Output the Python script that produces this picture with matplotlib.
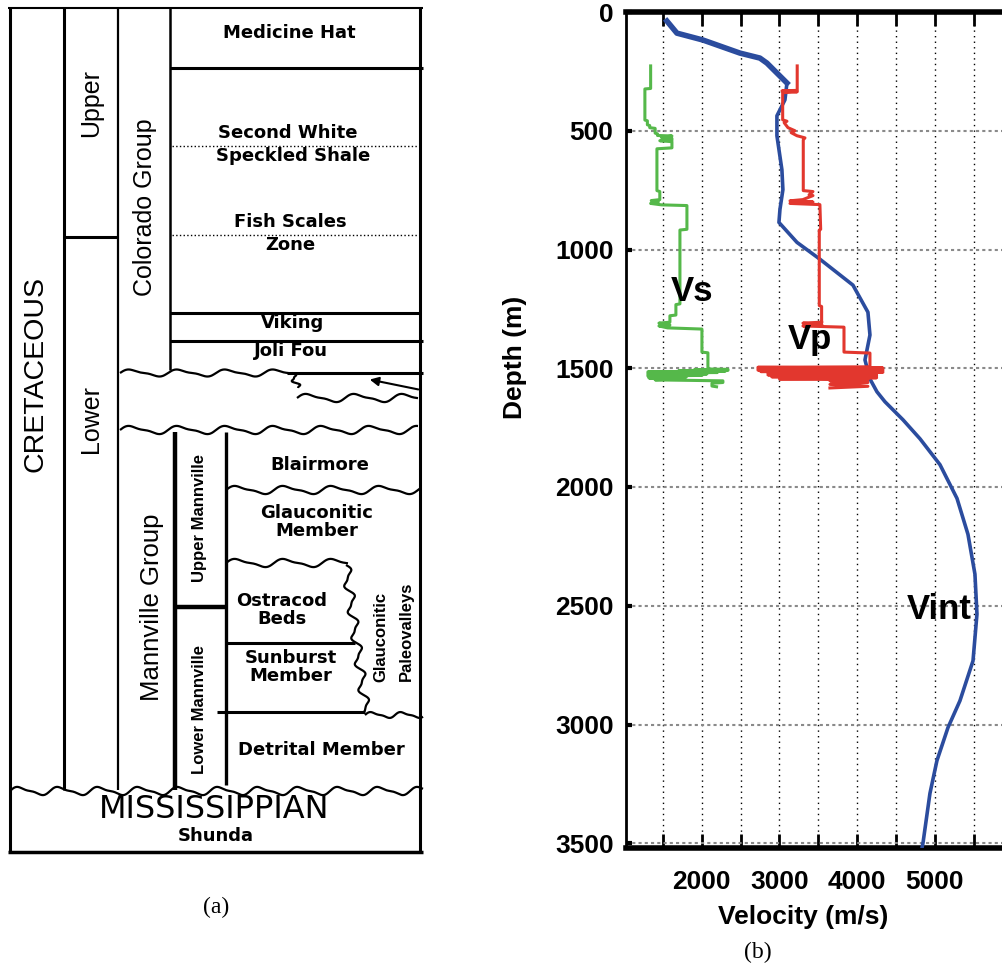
import numpy as np
import matplotlib.pyplot as plt
from matplotlib.ticker import FixedLocator

plt.rcParams['font.family'] = ['Liberation Sans', 'DejaVu Sans']

# ---------------- data ----------------
vint_depth = [38, 89, 118, 173, 194, 215, 257, 299, 370, 437, 521, 664, 748, 831, 886,
              970, 1041, 1150, 1264, 1360, 1465, 1545, 1599, 1641, 1717, 1797, 1906,
              2048, 2199, 2367, 2535, 2732, 2900, 3013, 3152, 3290, 3500, 3521]
vint_vel = [1551, 1680, 2015, 2491, 2748, 2838, 2967, 3096, 3070, 2967, 2967, 3031, 3044,
            3006, 2993, 3225, 3521, 3945, 4138, 4164, 4100, 4164, 4254, 4357, 4589, 4808,
            5065, 5284, 5425, 5515, 5541, 5490, 5322, 5168, 5026, 4936, 4846, 4833]

vs_depth = [227, 322, 324, 455, 458, 475, 478, 487, 490, 510, 513, 520, 522, 528, 532, 540,
            542, 546, 572, 576, 752, 756, 790, 794, 800, 806, 812, 815, 915, 918, 1229,
            1232, 1276, 1279, 1306, 1310, 1318, 1322, 1330, 1335, 1432, 1435, 1503, 1505,
            1507, 1509, 1511, 1513, 1515, 1518, 1521, 1524, 1527, 1530, 1533, 1537, 1541,
            1545, 1549, 1553, 1560, 1563, 1575, 1578]
vs_vel = [1342, 1342, 1268, 1268, 1300, 1300, 1330, 1330, 1400, 1400, 1430, 1430, 1616,
          1480, 1616, 1616, 1460, 1616, 1616, 1423, 1423, 1460, 1460, 1350, 1440, 1342,
          1480, 1809, 1809, 1719, 1719, 1667, 1667, 1590, 1590, 1449, 1590, 1449, 1560,
          2002, 2002, 2079, 2079, 2337, 1900, 2337, 1700, 2300, 1307, 2200, 1307, 2066,
          1307, 2000, 1307, 1800, 1320, 1700, 1400, 2272, 2272, 2131, 2131, 2190]

vp_depth = [227, 330, 332, 336, 340, 454, 460, 466, 487, 500, 508, 521, 530, 538, 752, 756,
            770, 773, 790, 795, 800, 806, 811, 915, 918, 1236, 1240, 1300, 1306, 1310,
            1316, 1322, 1327, 1432, 1436, 1494, 1496, 1499, 1502, 1505, 1508, 1511, 1514,
            1517, 1520, 1524, 1528, 1532, 1536, 1540, 1545, 1549, 1553, 1560, 1568, 1576,
            1583]
vp_vel = [3228, 3228, 3032, 3228, 3041, 3041, 3096, 3060, 3109, 3199, 3150, 3225, 3328,
          3306, 3306, 3431, 3380, 3431, 3300, 3135, 3431, 3135, 3520, 3530, 3512, 3512,
          3542, 3542, 3546, 3302, 3546, 3302, 3830, 3830, 4164, 4164, 2723, 4331, 2723,
          4331, 2723, 4331, 2760, 4331, 2851, 4250, 2851, 4250, 2900, 4250, 3000, 4138,
          3649, 4138, 3649, 4138, 3649]

x_ticks = [1500, 2000, 2500, 3000, 3500, 4000, 4500, 5000, 5500]
x_labels = ['', '2000', '', '3000', '', '4000', '', '5000', '']
y_ticks = [0, 500, 1000, 1500, 2000, 2500, 3000, 3500]

# ---------------- figure ----------------
W, H = 1003, 967
fig = plt.figure(figsize=(W / 100, H / 100), dpi=100)

# panel (a): stratigraphic column, drawn in pixel units
axl = fig.add_axes([0, 0, 1, 1])
axl.set_xlim(0, W)
axl.set_ylim(H, 0)
axl.axis('off')


def wavy(x0, x1, y, period=48, amp=3.5):
    x = np.linspace(x0, x1, int((x1 - x0) * 2) + 2)
    t = 2 * np.pi * (x - x0) / period
    return x, y - amp * (np.sin(t) + 0.35 * np.sin(2 * t))


def wavy_v(y0, y1, xa, xb, period=30, amp=4):
    y = np.linspace(y0, y1, int((y1 - y0) * 2) + 2)
    t = 2 * np.pi * (y - y0) / period
    x = xa + (xb - xa) * (y - y0) / (y1 - y0)
    return x + amp * (np.sin(t) + 0.35 * np.sin(2 * t)), y


def line(xs, ys, lw=2.2, **kw):
    axl.plot(xs, ys, color='black', lw=lw, solid_capstyle='butt', **kw)


# frame and columns
line([10, 10], [8, 852])
line([420, 420], [8, 852])
line([8, 423], [8, 8], lw=1.5)
line([8, 423], [852, 852], lw=2.5)
line([64, 64], [8, 790])
line([118, 118], [8, 790], lw=1.6)
line([170, 170], [8, 370], lw=1.8)
line([64, 118], [237, 237], lw=2.2)

# Colorado group
line([170, 423], [68, 68])
line([172, 418], [146, 146], lw=1.0, ls=':')
line([172, 418], [235, 235], lw=1.0, ls=':')
line([170, 420], [313, 313])
line([170, 423], [341, 341])
line(*wavy(120, 290, 373, amp=3), lw=1.6)
line([287, 423], [373, 373])
line(*wavy_v(373, 388, 292, 298, period=10, amp=3), lw=1.6)
line(*wavy(297, 418, 398, amp=3.5), lw=1.6)
axl.annotate('', xy=(367, 379), xytext=(421, 390),
             arrowprops=dict(arrowstyle='-|>', color='black', lw=1.5,
                             mutation_scale=13))

# Mannville group
line(*wavy(120, 418, 430, amp=3.5), lw=1.6)
line([175, 175], [432, 790], lw=3.2)
line([226, 226], [432, 785], lw=2.4)
line([175, 226], [607, 607], lw=3.2)
line(*wavy(226, 420, 490, amp=3.5), lw=1.6)
line(*wavy(226, 348, 563, amp=3.5), lw=1.6)
line(*wavy_v(565, 712, 346, 366, period=26, amp=4), lw=1.6)
line([226, 355], [643, 643])
line([217, 365], [712, 712])
line(*wavy(365, 423, 715, period=30, amp=2.5), lw=1.6)
line(*wavy(10, 423, 791, period=40, amp=3.5), lw=1.6)

lab = dict(ha='center', va='center', family='DejaVu Sans', weight='bold', fontsize=13,
           linespacing=0.95)
for txt, x, y in [('Medicine Hat', 289, 33), ('Second White', 288, 133),
                  ('Speckled Shale', 293, 156), ('Fish Scales', 290, 222),
                  ('Zone', 290, 245), ('Viking', 293, 323), ('Joli Fou', 291, 351),
                  ('Blairmore', 320, 465), ('Glauconitic\nMember', 317, 522),
                  ('Ostracod\nBeds', 282, 610), ('Sunburst\nMember', 291, 667),
                  ('Detrital Member', 321, 750), ('Shunda', 216, 836)]:
    axl.text(x, y, txt, **lab)

rot = dict(ha='center', va='center', rotation=90)
axl.text(36, 374, 'CRETACEOUS', fontsize=20.5, **rot)
axl.text(91, 103, 'Upper', fontsize=18, **rot)
axl.text(91, 419, 'Lower', fontsize=18, **rot)
axl.text(145, 207, 'Colorado Group', fontsize=18, **rot)
axl.text(152, 607, 'Mannville Group', fontsize=18.5, **rot)
axl.text(200, 518, 'Upper Mannville', fontsize=12, weight='bold', **rot)
axl.text(200, 710, 'Lower Mannville', fontsize=12, weight='bold', **rot)
axl.text(381, 637, 'Glauconitic', fontsize=12, weight='bold', **rot)
axl.text(406, 631, 'Paleovalleys', fontsize=12, weight='bold', **rot)
axl.text(214, 809, 'MISSISSIPPIAN', ha='center', va='center', fontsize=23,
         family='DejaVu Sans')
axl.text(216, 907, '(a)', ha='center', va='center', fontsize=17, family='Liberation Serif')
axl.text(758, 952, '(b)', ha='center', va='center', fontsize=17, family='Liberation Serif')

# panel (b): velocity vs depth
top, bot, left = 12, 848, 626
ax = fig.add_axes([left / W, (H - bot) / H, (W - left) / W, (bot - top) / H])
ax.plot(vint_vel, vint_depth, color='#2B4C9E', lw=2.6, zorder=3)
ax.plot(vint_vel[:8], vint_depth[:8], color='#2B4C9E', lw=4, zorder=3)
ax.plot(vp_vel, vp_depth, color='#E2372E', lw=2.2, zorder=4)
ax.plot(vs_vel, vs_depth, color='#55B84A', lw=2.2, zorder=4)

ax.set_xlim(1025, 5876)
ax.set_ylim(3520, 0)
ax.xaxis.set_major_locator(FixedLocator(x_ticks))
ax.set_xticklabels(x_labels)
ax.set_yticks(y_ticks)
ax.tick_params(axis='x', direction='in', length=10, width=2, top=True, bottom=True,
               labelsize=19, pad=16)
ax.tick_params(axis='y', direction='in', length=4, width=3, labelsize=19, pad=9)
for t in ax.get_xticklabels() + ax.get_yticklabels():
    t.set_fontweight('bold')
ax.grid(axis='x', color='black', ls=(0, (1, 3)), lw=1.0)
ax.grid(axis='y', color='#8a8a8a', ls=(0, (1.5, 1.5)), lw=1.5)
ax.spines['right'].set_visible(False)
ax.spines['left'].set_linewidth(2)
ax.spines['top'].set_linewidth(4)
ax.spines['bottom'].set_linewidth(4)

ax.text(1873, 1176, 'Vs', fontsize=25, weight='bold', ha='center', va='center', zorder=5)
ax.text(3392, 1377, 'Vp', fontsize=25, weight='bold', ha='center', va='center', zorder=5)
ax.text(5052, 2514, 'Vint', fontsize=25, weight='bold', ha='center', va='center', zorder=5)

fig.text(515 / W, 1 - 357 / H, 'Depth (m)', rotation=90, ha='center', va='center',
         fontsize=19, weight='bold')
fig.text(803 / W, 1 - 917 / H, 'Velocity (m/s)', ha='center', va='center',
         fontsize=19, weight='bold')

fig.savefig('out.png', dpi=100)
